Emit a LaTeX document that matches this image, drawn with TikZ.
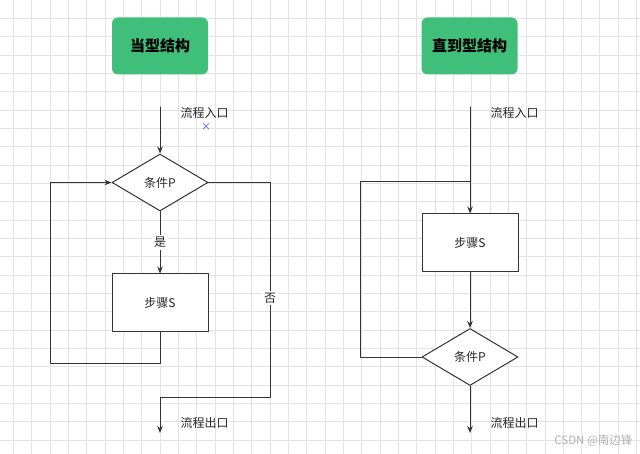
\documentclass[tikz,border=0pt]{standalone}
\usepackage{fontspec}
\setmainfont{Noto Sans CJK SC}
\usetikzlibrary{shapes.geometric,arrows.meta}
\definecolor{titlegreen}{HTML}{40BF7A}
\definecolor{gridgray}{HTML}{E3E3E3}
\definecolor{markblue}{HTML}{3D5BD9}

\begin{document}
\begin{tikzpicture}[x=1pt,y=-1pt,line cap=round,line join=round,
  every node/.style={font=\fontsize{12}{14}\selectfont,text=black!85},
  flow/.style={draw=black!80,line width=1pt},
  arr/.style={flow,-{Stealth[length=7pt,width=5.5pt]}},
  gridline/.style={draw=gridgray,line width=0.8pt},
  titlebox/.style={fill=titlegreen,rounded corners=6pt,minimum width=96pt,minimum height=57pt,
    font=\fontsize{15}{18}\selectfont\bfseries,text=black},
  stepbox/.style={draw=black!80,line width=1pt,fill=white,minimum width=96pt,minimum height=58pt,inner sep=0pt},
  condbox/.style={diamond,draw=black!80,line width=1pt,fill=white,minimum width=96pt,minimum height=57pt,inner sep=0pt},
  tag/.style={fill=white,inner sep=2pt}]
\fill[white] (0,0) rectangle (640,454);
\useasboundingbox (0,0) rectangle (640,454);

% Background grid.
\foreach \i in {0,...,34} \draw[gridline] (13.33+18.33*\i,0) -- (13.33+18.33*\i,454);
\foreach \j in {1,...,24} \draw[gridline] (0,18.33*\j) -- (640,18.33*\j);

% While-type structure.
\node[titlebox] (titleL) at (160,46) {当型结构};
\coordinate (inL)   at (160,107);
\node[condbox] (condL) at (160,182.5) {条件P};
\node[stepbox] (stepL) at (160,303) {步骤S};
\coordinate (loopL) at (50,363);
\coordinate (noL)   at (270,397);
\coordinate (outL)  at (160,433);

\draw[arr] (inL) -- (condL.north);
\draw[arr] (condL.south) -- node[tag] (yesL) {是} (stepL.north);
\draw[arr] (stepL.south) |- (loopL) |- (condL.west);
\draw[arr] (condL.east) -| (noL) -| (outL);
\node[tag] (noTagL) at (270,298) {否};

\node[anchor=west] (inTextL)  at (177,113) {流程入口};
\node[anchor=west] (outTextL) at (177,423) {流程出口};
\node[text=markblue,font=\fontsize{10}{10}\selectfont] (markL) at (206,127) {×};

% Until-type structure.
\node[titlebox] (titleR) at (469.5,46) {直到型结构};
\coordinate (inR)   at (470,107);
\node[stepbox] (stepR) at (470,243) {步骤S};
\node[condbox] (condR) at (470,357) {条件P};
\coordinate (loopR) at (360,182);
\coordinate (joinR) at (470,182);
\coordinate (outR)  at (470,433);

\draw[arr] (inR) -- (stepR.north);
\draw[arr] (stepR.south) -- (condR.north);
\draw[flow] (condR.west) -| (loopR) -- (joinR);
\draw[arr] (condR.south) -- (outR);

\node[anchor=west] (inTextR)  at (487,113) {流程入口};
\node[anchor=west] (outTextR) at (487,423) {流程出口};

\node[anchor=east,text=black!30,font=\fontsize{11.5}{13}\selectfont] (credit) at (636,441) {CSDN @南边锋};
\end{tikzpicture}
\end{document}
